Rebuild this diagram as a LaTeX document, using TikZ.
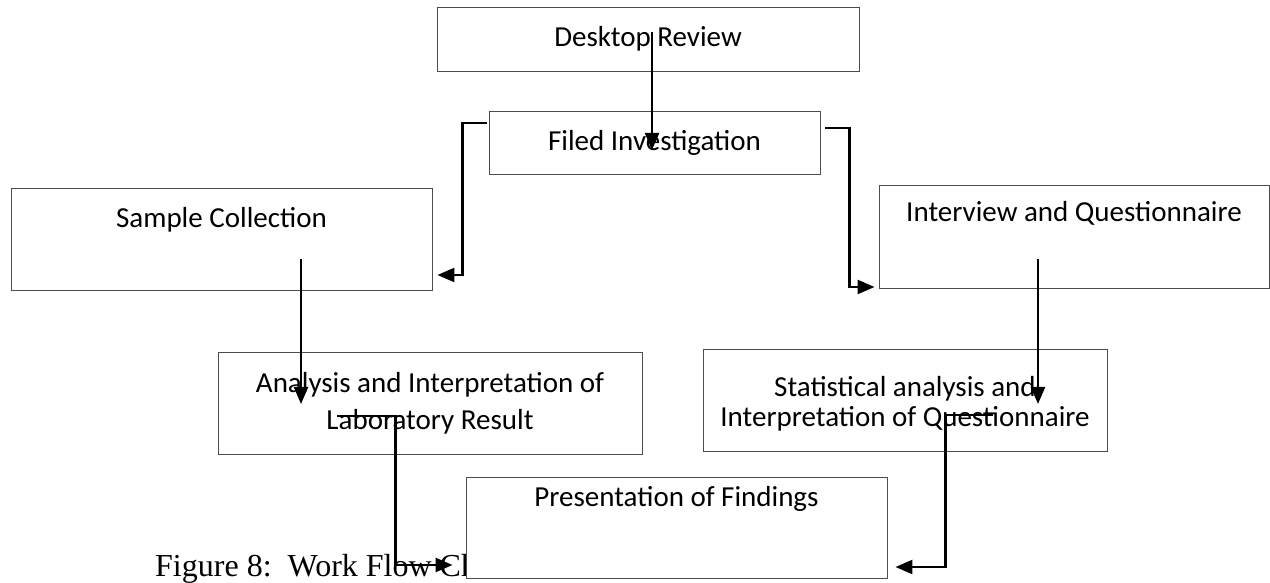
\documentclass[tikz,border=0pt]{standalone}
\usepackage{fontspec}
\setmainfont{Carlito}
\newfontfamily\capfont{Liberation Serif}
\usetikzlibrary{arrows.meta,calc}

\begin{document}
\begin{tikzpicture}[x=1pt,y=1pt,
  stepbox/.style={draw=black!70,line width=0.9pt,fill=white,inner sep=0pt,
    font=\fontsize{29}{37}\selectfont,align=center},
  flow/.style={line width=2.4pt,-{Triangle[length=17pt,width=14pt]}}]
\useasboundingbox (0,0) rectangle (1270,583);

% boxes
\node[stepbox,minimum width=422pt,minimum height=64pt] (desk) at (648,544) {Desktop Review};
\node[stepbox,minimum width=331pt,minimum height=63pt] (filed) at (654.5,440.5) {Filed Investigation};
\node[stepbox,minimum width=421pt,minimum height=102pt,text height=40pt,text depth=62pt] (sample) at (221.5,344) {Sample Collection};
\node[stepbox,minimum width=390pt,minimum height=103pt,text height=37pt,text depth=66pt] (interview) at (1074,346.5) {Interview and Questionnaire};
\node[stepbox,minimum width=424pt,minimum height=102pt] (analysis) at (430,180) {Analysis and Interpretation of\\Laboratory Result};
\node[stepbox,minimum width=404pt,minimum height=102pt,font=\fontsize{29}{30}\selectfont,text height=57pt] (stats) at (905,183) {Statistical analysis and\\Interpretation of Questionnaire};

% caption, partly hidden by the last box
\node[font=\capfont\fontsize{32}{38}\selectfont,anchor=base west,inner sep=0pt] (caption) at (155,6) {Figure 8:\ \ Work Flow Chart};
\node[stepbox,minimum width=421pt,minimum height=101pt,text height=30pt,text depth=71pt] (present) at (676.5,55.5) {Presentation of Findings};

% arrows
\draw[flow] ($(desk.center)+(4,7)$) -- ($(desk.center |- filed.center)+(4,-7.5)$);
\draw[flow] ($(filed.west)+(-2,19.5)$) -| ($(sample.east)+(30,-36)$) -- ($(sample.east)+(5,-36)$);
\draw[flow] ($(filed.east)+(5,14.5)$) -| ($(interview.west)+(-29,-50.5)$) -- ($(interview.west)+(-4,-50.5)$);
\draw[flow] ($(sample.center)+(79.5,-20)$) -- ($(sample.center |- analysis.center)+(79.5,-1)$);
\draw[flow] ($(interview.center)+(-36,-22.5)$) -- ($(interview.center |- stats.center)+(-36,-4)$);
\draw[flow] ($(analysis.center)+(-93,-13)$) -| ($(present.west)+(-70,-37.5)$) -- ($(present.west)+(-13,-37.5)$);
\draw[flow] ($(stats.center)+(88,-15)$) -| ($(present.east)+(58,-39.5)$) -- ($(present.east)+(8,-39.5)$);
\end{tikzpicture}
\end{document}
